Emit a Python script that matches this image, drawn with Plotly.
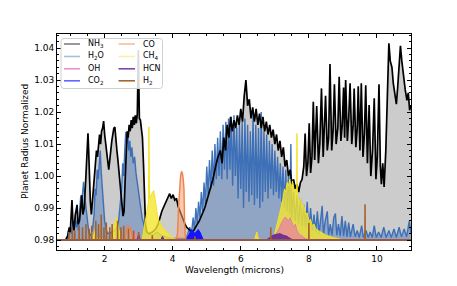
import plotly.graph_objects as go

BASE = 0.98

NH3_WL = [0.60, 0.85, 0.92, 0.96, 0.99, 1.02, 1.04, 1.07, 1.10, 1.14, 1.19, 1.22, 1.26, 1.30, 1.33, 1.36, 1.40, 1.44, 1.47, 1.49, 1.51, 1.53, 1.55, 1.58, 1.61, 1.64, 1.67, 1.70, 1.73, 1.76, 1.79, 1.82, 1.85, 1.88, 1.91, 1.94, 1.97, 2.00, 2.03, 2.06, 2.09, 2.12, 2.15, 2.18, 2.21, 2.24, 2.27, 2.30, 2.33, 2.36, 2.39, 2.42, 2.45, 2.48, 2.51, 2.54, 2.57, 2.60, 2.63, 2.66, 2.69, 2.72, 2.75, 2.78, 2.81, 2.84, 2.87, 2.90, 2.93, 2.96, 2.99, 3.02, 3.05, 3.08, 3.11, 3.14, 3.17, 3.20, 3.24, 3.30, 3.40, 3.50, 3.57, 3.62, 3.68, 3.74, 3.80, 3.86, 3.91, 3.96, 4.01, 4.06, 4.11, 4.16, 4.21, 4.26, 4.31, 4.36, 4.41, 4.46, 4.51, 4.56, 4.62, 4.70, 4.78, 4.86, 4.94, 5.02, 5.10, 5.18, 5.26, 5.33, 5.40, 5.45, 5.50, 5.55, 5.60, 5.65, 5.70, 5.75, 5.80, 5.85, 5.90, 5.95, 6.00, 6.05, 6.10, 6.15, 6.20, 6.25, 6.30, 6.35, 6.40, 6.45, 6.50, 6.55, 6.60, 6.65, 6.70, 6.75, 6.80, 6.85, 6.90, 6.95, 7.00, 7.05, 7.10, 7.15, 7.20, 7.25, 7.30, 7.35, 7.40, 7.45, 7.50, 7.55, 7.60, 7.65, 7.70, 7.75, 7.80, 7.85, 7.89, 7.93, 7.97, 8.01, 8.05, 8.09, 8.13, 8.17, 8.23, 8.28, 8.32, 8.37, 8.42, 8.49, 8.54, 8.58, 8.62, 8.67, 8.71, 8.75, 8.80, 8.85, 8.89, 8.94, 8.98, 9.02, 9.05, 9.08, 9.13, 9.17, 9.21, 9.26, 9.30, 9.33, 9.38, 9.42, 9.45, 9.50, 9.54, 9.59, 9.63, 9.67, 9.72, 9.77, 9.82, 9.87, 9.92, 9.97, 10.01, 10.06, 10.10, 10.13, 10.17, 10.21, 10.26, 10.30, 10.35, 10.39, 10.44, 10.48, 10.53, 10.57, 10.61, 10.65, 10.69, 10.73, 10.78, 10.83, 10.88, 10.92, 10.96, 11.00]
NH3_VAL = [0.9800, 0.9800, 0.9815, 0.9840, 0.9825, 0.9890, 0.9925, 0.9850, 0.9830, 0.9880, 0.9910, 0.9850, 0.9860, 0.9905, 0.9940, 0.9880, 0.9900, 0.9980, 1.0060, 1.0110, 1.0134, 1.0080, 0.9990, 0.9920, 0.9880, 0.9920, 0.9970, 1.0010, 1.0040, 1.0080, 1.0060, 1.0110, 1.0130, 1.0100, 1.0140, 1.0150, 1.0172, 1.0130, 1.0100, 1.0060, 1.0030, 1.0020, 1.0050, 1.0090, 1.0110, 1.0130, 1.0150, 1.0153, 1.0100, 1.0080, 1.0050, 1.0020, 0.9990, 0.9950, 0.9910, 0.9875, 0.9890, 0.9980, 1.0080, 1.0140, 1.0120, 1.0160, 1.0140, 1.0175, 1.0150, 1.0185, 1.0160, 1.0190, 1.0165, 1.0195, 1.0394, 1.0180, 1.0175, 1.0150, 1.0120, 1.0040, 0.9920, 0.9850, 0.9825, 0.9820, 0.9825, 0.9835, 0.9850, 0.9870, 0.9890, 0.9905, 0.9920, 0.9935, 0.9945, 0.9930, 0.9942, 0.9925, 0.9930, 0.9905, 0.9890, 0.9880, 0.9860, 0.9850, 0.9840, 0.9835, 0.9830, 0.9820, 0.9830, 0.9845, 0.9860, 0.9880, 0.9900, 0.9930, 0.9960, 0.9990, 1.0030, 1.0060, 1.0080, 1.0040, 1.0120, 1.0080, 1.0160, 1.0120, 1.0185, 1.0140, 1.0175, 1.0150, 1.0190, 1.0160, 1.0210, 1.0170, 1.0250, 1.0300, 1.0220, 1.0240, 1.0180, 1.0215, 1.0170, 1.0210, 1.0160, 1.0195, 1.0150, 1.0185, 1.0140, 1.0170, 1.0130, 1.0160, 1.0120, 1.0145, 1.0100, 1.0130, 1.0080, 1.0110, 1.0060, 1.0090, 1.0030, 1.0050, 1.0000, 1.0020, 0.9975, 0.9990, 0.9960, 0.9975, 0.9950, 0.9980, 0.9990, 1.0030, 1.0133, 1.0000, 1.0040, 1.0165, 1.0010, 1.0060, 1.0232, 1.0050, 1.0219, 1.0040, 1.0100, 1.0274, 1.0060, 1.0251, 1.0080, 1.0120, 1.0350, 1.0080, 1.0140, 1.0287, 1.0100, 1.0150, 1.0310, 1.0110, 1.0160, 1.0277, 1.0120, 1.0300, 1.0110, 1.0180, 1.0290, 1.0100, 1.0160, 1.0274, 1.0090, 1.0150, 1.0281, 1.0080, 1.0290, 1.0060, 1.0130, 1.0284, 1.0040, 1.0222, 1.0000, 1.0080, 1.0243, 0.9990, 1.0060, 1.0287, 1.0030, 0.9975, 1.0040, 0.9966, 1.0080, 1.0250, 1.0415, 1.0360, 1.0340, 1.0290, 1.0256, 1.0225, 1.0280, 1.0340, 1.0407, 1.0360, 1.0309, 1.0270, 1.0237, 1.0260, 1.0206, 1.0220]

H2O_WL = [0.60, 0.90, 0.93, 0.96, 1.00, 1.03, 1.08, 1.11, 1.14, 1.17, 1.20, 1.23, 1.27, 1.30, 1.33, 1.36, 1.38, 1.41, 1.44, 1.47, 1.50, 1.54, 1.60, 1.65, 1.69, 1.72, 1.75, 1.78, 1.81, 1.84, 1.87, 1.90, 1.93, 1.96, 2.00, 2.05, 2.10, 2.20, 2.30, 2.40, 2.45, 2.50, 2.53, 2.56, 2.59, 2.62, 2.65, 2.68, 2.71, 2.74, 2.77, 2.80, 2.84, 2.88, 2.92, 2.96, 3.00, 3.05, 3.10, 3.15, 3.20, 3.30, 3.40, 3.55, 3.65, 3.80, 4.00, 4.40, 4.50, 4.55, 4.60, 4.64, 4.68, 4.72, 4.76, 4.80, 4.84, 4.88, 4.92, 4.96, 5.00, 5.04, 5.08, 5.12, 5.16, 5.20, 5.24, 5.28, 5.32, 5.36, 5.40, 5.44, 5.48, 5.52, 5.56, 5.60, 5.64, 5.68, 5.72, 5.76, 5.80, 5.84, 5.88, 5.92, 5.96, 6.00, 6.04, 6.08, 6.12, 6.16, 6.20, 6.24, 6.28, 6.32, 6.36, 6.40, 6.44, 6.48, 6.52, 6.56, 6.60, 6.64, 6.68, 6.72, 6.76, 6.80, 6.84, 6.88, 6.92, 6.96, 7.00, 7.04, 7.08, 7.12, 7.16, 7.20, 7.24, 7.28, 7.32, 7.36, 7.40, 7.44, 7.47, 7.50, 7.55, 7.60, 7.65, 7.70, 7.75, 7.80, 7.85, 7.90, 7.95, 8.00, 8.05, 8.10, 8.15, 8.20, 8.25, 8.30, 8.35, 8.39, 8.43, 8.48, 8.54, 8.58, 8.63, 8.68, 8.73, 8.78, 8.82, 8.87, 8.92, 8.97, 9.02, 9.07, 9.12, 9.17, 9.22, 9.30, 9.36, 9.42, 9.48, 9.55, 9.60, 9.68, 9.74, 9.80, 9.86, 9.92, 9.98, 10.05, 10.12, 10.20, 10.27, 10.35, 10.42, 10.50, 10.57, 10.65, 10.72, 10.80, 10.87, 10.95, 11.00]
H2O_VAL = [0.9800, 0.9800, 0.9830, 0.9815, 0.9840, 0.9820, 0.9860, 0.9835, 0.9880, 0.9840, 0.9860, 0.9830, 0.9900, 0.9940, 0.9920, 0.9970, 0.9982, 0.9940, 0.9910, 0.9870, 0.9840, 0.9820, 0.9815, 0.9840, 0.9880, 0.9960, 0.9940, 1.0020, 0.9990, 1.0060, 1.0080, 1.0010, 0.9960, 0.9900, 0.9860, 0.9830, 0.9820, 0.9825, 0.9830, 0.9850, 0.9900, 0.9960, 1.0040, 1.0000, 1.0080, 1.0138, 1.0100, 1.0130, 1.0080, 1.0110, 1.0060, 1.0090, 1.0040, 1.0060, 1.0010, 0.9980, 0.9950, 0.9900, 0.9870, 0.9850, 0.9830, 0.9820, 0.9815, 0.9825, 0.9815, 0.9810, 0.9805, 0.9805, 0.9840, 0.9820, 0.9870, 0.9830, 0.9900, 0.9850, 0.9920, 0.9870, 0.9950, 0.9890, 0.9980, 0.9910, 1.0030, 0.9940, 1.0050, 0.9960, 1.0080, 0.9970, 1.0100, 0.9990, 1.0120, 1.0000, 1.0140, 0.9990, 1.0160, 1.0020, 1.0170, 0.9990, 1.0180, 1.0020, 1.0185, 0.9970, 1.0190, 1.0000, 1.0150, 0.9930, 1.0160, 0.9960, 1.0170, 0.9900, 1.0180, 0.9950, 1.0160, 0.9920, 1.0140, 0.9940, 1.0190, 0.9910, 1.0160, 0.9930, 1.0150, 0.9900, 1.0200, 0.9920, 1.0140, 0.9950, 1.0130, 0.9930, 1.0110, 0.9960, 1.0100, 0.9940, 1.0080, 0.9950, 1.0060, 0.9930, 1.0040, 0.9920, 1.0030, 0.9900, 1.0020, 0.9890, 1.0000, 0.9880, 1.0100, 0.9870, 0.9950, 0.9860, 0.9940, 0.9850, 0.9930, 0.9845, 0.9910, 0.9840, 0.9920, 0.9830, 0.9900, 0.9830, 0.9880, 0.9825, 0.9890, 0.9820, 0.9860, 0.9907, 0.9820, 0.9860, 0.9890, 0.9815, 0.9850, 0.9815, 0.9870, 0.9883, 0.9815, 0.9850, 0.9812, 0.9875, 0.9812, 0.9860, 0.9810, 0.9855, 0.9810, 0.9850, 0.9810, 0.9830, 0.9808, 0.9845, 0.9808, 0.9830, 0.9808, 0.9825, 0.9808, 0.9845, 0.9808, 0.9825, 0.9808, 0.9840, 0.9808, 0.9830, 0.9808, 0.9835, 0.9808, 0.9840, 0.9810, 0.9835, 0.9810, 0.9860, 0.9820]

CH4_WL = [0.60, 1.60, 1.64, 1.67, 1.72, 1.76, 2.20, 2.26, 2.30, 2.33, 2.36, 2.40, 2.45, 2.50, 3.10, 3.15, 3.20, 3.25, 3.29, 3.30, 3.32, 3.36, 3.40, 3.44, 3.48, 3.52, 3.56, 3.60, 3.65, 3.70, 3.78, 3.86, 3.95, 4.05, 4.20, 6.40, 6.44, 6.47, 6.50, 6.55, 6.95, 7.05, 7.12, 7.18, 7.24, 7.28, 7.32, 7.36, 7.40, 7.44, 7.48, 7.52, 7.56, 7.60, 7.64, 7.65, 7.66, 7.70, 7.75, 7.80, 7.85, 7.90, 7.95, 8.00, 8.05, 8.10, 8.15, 8.20, 8.30, 8.40, 8.50, 8.60, 8.70, 8.85, 9.00, 11.00]
CH4_VAL = [0.9800, 0.9800, 0.9825, 0.9808, 0.9830, 0.9805, 0.9800, 0.9830, 0.9860, 0.9845, 0.9870, 0.9840, 0.9815, 0.9800, 0.9800, 0.9830, 0.9870, 0.9900, 0.9920, 1.0154, 0.9930, 0.9940, 0.9950, 0.9955, 0.9930, 0.9890, 0.9870, 0.9860, 0.9850, 0.9840, 0.9830, 0.9820, 0.9812, 0.9805, 0.9800, 0.9800, 0.9815, 0.9825, 0.9810, 0.9800, 0.9800, 0.9840, 0.9870, 0.9900, 0.9930, 0.9960, 0.9950, 0.9980, 0.9970, 0.9990, 0.9960, 0.9985, 0.9950, 0.9960, 0.9940, 1.0133, 0.9940, 0.9920, 0.9930, 0.9900, 0.9910, 0.9880, 0.9885, 0.9860, 0.9865, 0.9845, 0.9850, 0.9835, 0.9828, 0.9820, 0.9815, 0.9812, 0.9808, 0.9805, 0.9800, 0.9800]

OH_WL = [0.60, 2.80, 2.85, 2.90, 2.95, 3.00, 6.90, 7.00, 7.10, 7.20, 7.25, 7.30, 7.35, 7.40, 7.45, 7.50, 7.55, 7.60, 7.65, 7.70, 7.80, 7.90, 8.00, 11.00]
OH_VAL = [0.9800, 0.9800, 0.9815, 0.9825, 0.9815, 0.9800, 0.9800, 0.9815, 0.9830, 0.9855, 0.9865, 0.9872, 0.9868, 0.9860, 0.9870, 0.9855, 0.9840, 0.9850, 0.9830, 0.9820, 0.9812, 0.9805, 0.9800, 0.9800]

CO_WL = [0.60, 2.60, 2.64, 2.68, 2.72, 2.76, 2.80, 2.84, 4.10, 4.14, 4.17, 4.20, 4.23, 4.26, 4.29, 4.31, 4.33, 4.35, 4.37, 4.40, 11.00]
CO_VAL = [0.9800, 0.9800, 0.9830, 0.9845, 0.9835, 0.9840, 0.9815, 0.9800, 0.9800, 0.9820, 0.9900, 0.9970, 1.0000, 1.0015, 1.0005, 0.9990, 0.9960, 0.9850, 0.9810, 0.9800, 0.9800]

CO2_WL = [0.60, 4.40, 4.45, 4.50, 4.55, 4.60, 4.65, 4.70, 4.75, 4.80, 4.85, 4.90, 11.00]
CO2_VAL = [0.9800, 0.9800, 0.9812, 0.9825, 0.9832, 0.9828, 0.9820, 0.9828, 0.9833, 0.9825, 0.9812, 0.9800, 0.9800]

HCN_WL = [0.60, 2.95, 3.00, 3.05, 3.65, 3.70, 3.75, 6.75, 6.85, 6.95, 7.05, 7.15, 7.25, 7.35, 7.45, 7.55, 11.00]
HCN_VAL = [0.9800, 0.9800, 0.9818, 0.9800, 0.9800, 0.9812, 0.9800, 0.9800, 0.9808, 0.9815, 0.9818, 0.9820, 0.9815, 0.9812, 0.9805, 0.9800, 0.9800]

H2_SPIKE_WL = [0.95, 1.05, 1.12, 1.25, 1.35, 1.45, 1.55, 1.62, 1.74, 1.82, 1.90, 1.98, 2.05, 2.15, 2.22, 2.38, 2.48, 2.56, 2.70, 2.85, 3.00, 3.40, 4.65, 6.88, 8.00, 9.65]
H2_SPIKE_VAL = [0.9825, 0.9835, 0.9830, 0.9845, 0.9840, 0.9850, 0.9835, 0.9845, 0.9860, 0.9850, 0.9880, 0.9840, 0.9855, 0.9840, 0.9850, 0.9860, 0.9840, 0.9845, 0.9835, 0.9830, 0.9825, 0.9815, 0.9812, 0.9840, 0.9853, 0.9912]

LEGEND_LABELS = ["NH<sub>3</sub>", "H<sub>2</sub>O", "OH", "CO<sub>2</sub>", "CO", "CH<sub>4</sub>", "HCN", "H<sub>2</sub>"]
LEGEND_COLORS = ["#7f7f7f", "#a3bfe2", "#ee8fd2", "#6464ff", "#f9bb9c", "#f8f0a6", "#7a48aa", "#a5662f"]

X_TITLE = "Wavelength (microns)"
Y_TITLE = "Planet Radius Normalized"

X_RANGE = [0.6, 11.0]
Y_RANGE = [0.9769, 1.0444]

# H2 trace: baseline with narrow spikes
h2_x = [X_RANGE[0]]
h2_y = [BASE]
for w, v in zip(H2_SPIKE_WL, H2_SPIKE_VAL):
    h2_x += [w - 0.004, w, w + 0.004]
    h2_y += [BASE, v, BASE]
h2_x.append(X_RANGE[1])
h2_y.append(BASE)

fig = go.Figure()


def baseline():
    fig.add_trace(go.Scatter(x=X_RANGE, y=[BASE, BASE], mode="lines",
                             line=dict(width=0, color="rgba(0,0,0,0)"),
                             showlegend=False, hoverinfo="skip"))


def filled(x, y, line_color, fill_color, width):
    baseline()
    fig.add_trace(go.Scatter(x=x, y=y, mode="lines", fill="tonexty",
                             fillcolor=fill_color,
                             line=dict(color=line_color, width=width),
                             showlegend=False, hoverinfo="skip"))


# NH3 fill (gray)
filled(NH3_WL, NH3_VAL, "rgba(0,0,0,0)", "rgba(0,0,0,0.2)", 0)
# H2O
filled(H2O_WL, H2O_VAL, "rgba(55,108,182,0.95)", "rgba(55,108,182,0.4)", 1.4)
# NH3 line on top
fig.add_trace(go.Scatter(x=NH3_WL, y=NH3_VAL, mode="lines",
                         line=dict(color="black", width=1.7),
                         showlegend=False, hoverinfo="skip"))
# CH4
filled(CH4_WL, CH4_VAL, "rgb(242,226,40)", "rgba(245,230,45,0.8)", 1)
# OH
filled(OH_WL, OH_VAL, "rgb(228,130,160)", "rgba(232,140,150,0.85)", 1)
# CO
filled(CO_WL, CO_VAL, "rgb(240,128,76)", "rgba(246,160,110,0.55)", 1.4)
# CO2
filled(CO2_WL, CO2_VAL, "rgb(20,20,255)", "rgb(20,20,255)", 1)
# HCN
filled(HCN_WL, HCN_VAL, "rgb(100,40,150)", "rgba(100,40,150,0.9)", 1)
# H2
fig.add_trace(go.Scatter(x=h2_x, y=h2_y, mode="lines",
                         line=dict(color="rgb(165,95,40)", width=1.5),
                         showlegend=False, hoverinfo="skip"))

# ---- page geometry (the html body adds an 8px margin) ----
PAGE_OFF = 8
W, H = 457, 286
L, R, T, B = 57, 411, 34, 250   # plot area in window pixels


def px(xp):
    return (xp - L) / (R - L)


def py(yp):
    return (B - yp) / (B - T)


shapes = []
bx0, bx1, by0, by1 = px(61), px(162.5), py(88.5), py(38.5)
rx, ry = 3 / (R - L), 3 / (B - T)
path = (f"M {bx0 + rx},{by1} L {bx1 - rx},{by1} Q {bx1},{by1} {bx1},{by1 - ry} "
        f"L {bx1},{by0 + ry} Q {bx1},{by0} {bx1 - rx},{by0} L {bx0 + rx},{by0} "
        f"Q {bx0},{by0} {bx0},{by0 + ry} L {bx0},{by1 - ry} Q {bx0},{by1} {bx0 + rx},{by1} Z")
shapes.append(dict(type="path", path=path, xref="paper", yref="paper",
                   line=dict(color="#d0d0d0", width=1), fillcolor="rgba(255,255,255,0.85)",
                   layer="above"))
rows = [44, 56.5, 68.8, 80.8]
cols = [(64, 80, 86), (118.5, 135, 141)]
annotations = []
for i, (lab, col) in enumerate(zip(LEGEND_LABELS, LEGEND_COLORS)):
    c = cols[i // 4]
    r = rows[i % 4]
    shapes.append(dict(type="line", xref="paper", yref="paper",
                       x0=px(c[0]), x1=px(c[1]), y0=py(r), y1=py(r),
                       line=dict(color=col, width=1.6), layer="above"))
    annotations.append(dict(x=px(c[2]), y=py(r), xref="paper", yref="paper",
                            text=lab, showarrow=False, xanchor="left", yanchor="middle",
                            font=dict(family="DejaVu Sans", size=8, color="black")))

# axis titles as annotations for precise placement
annotations.append(dict(x=px(234.5), y=py(269.5), xref="paper", yref="paper",
                        text=X_TITLE, showarrow=False, xanchor="center", yanchor="middle",
                        font=dict(family="DejaVu Sans", size=9, color="black")))
annotations.append(dict(x=px(25), y=0.5, xref="paper", yref="paper",
                        text=Y_TITLE, showarrow=False, xanchor="center", yanchor="middle",
                        textangle=-90,
                        font=dict(family="DejaVu Sans", size=9, color="black")))

axis_common = dict(showline=True, linecolor="black", linewidth=1, mirror="allticks",
                   ticks="inside", ticklen=4, tickwidth=1, tickcolor="black",
                   showgrid=False, zeroline=False,
                   tickfont=dict(family="DejaVu Sans", size=9, color="black"))

fig.update_layout(
    width=W - PAGE_OFF, height=H - PAGE_OFF,
    margin=dict(l=L - PAGE_OFF, r=W - R, t=T - PAGE_OFF, b=H - B, pad=0),
    paper_bgcolor="white", plot_bgcolor="white",
    font=dict(family="DejaVu Sans", size=9, color="black"),
    showlegend=False,
    shapes=shapes, annotations=annotations,
    xaxis=dict(range=X_RANGE, tick0=0, dtick=2,
               minor=dict(ticks="inside", ticklen=2, tick0=0, dtick=0.5, tickcolor="black"),
               **axis_common),
    yaxis=dict(range=Y_RANGE, tick0=0.98, dtick=0.01, tickformat=".2f",
               minor=dict(ticks="inside", ticklen=2, tick0=0.98, dtick=0.002, tickcolor="black"),
               **axis_common),
)

fig.write_html("out.html")
